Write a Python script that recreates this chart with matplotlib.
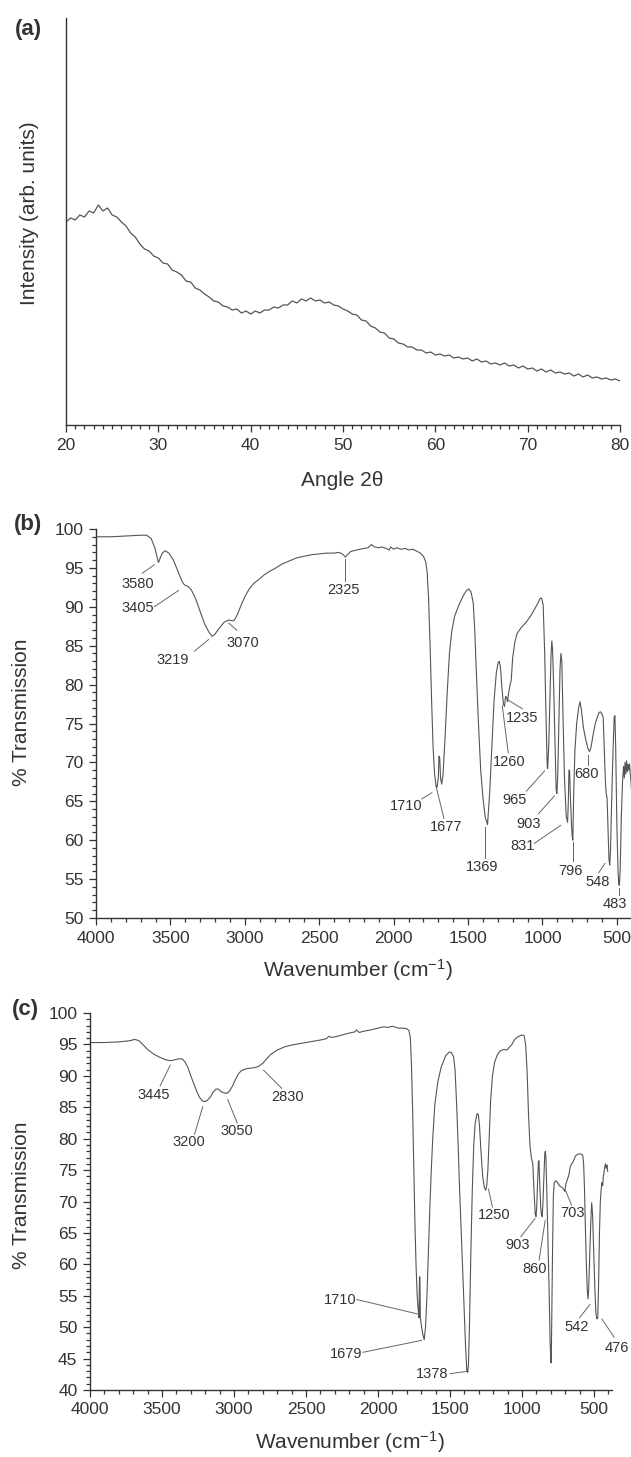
import numpy as np
import matplotlib
matplotlib.use("Agg")
import matplotlib.pyplot as plt
from matplotlib.ticker import MultipleLocator

plt.rcParams['font.family'] = ['Liberation Sans', 'DejaVu Sans']
plt.rcParams['mathtext.default'] = 'regular'

TXT = '#333333'
LINE = '#555555'

# (a) XRD, angle grid and read-off intensity (arb. units)
xrd_angle = np.arange(20, 80.5, 0.5)
xrd_int = [203, 207, 205, 210, 208, 214, 212, 220, 214, 217,
           210, 208, 203, 199, 192, 188, 181, 176, 174, 169,
           167, 162, 161, 155, 153, 150, 144, 143, 137, 135,
           131, 128, 124, 123, 119, 118, 115, 116, 112, 114,
           111, 114, 112, 115, 115, 118, 117, 120, 120, 124,
           122, 126, 124, 127, 124, 125, 122, 123, 120, 119,
           116, 114, 111, 110, 105, 104, 99, 97, 93, 92,
           87, 86, 82, 81, 78, 78, 75, 75, 72, 73,
           70, 71, 69, 70, 67, 68, 66, 67, 64, 66,
           63, 64, 61, 62, 60, 62, 59, 60, 57, 59,
           56, 57, 54, 56, 53, 55, 52, 53, 51, 52,
           49, 51, 48, 50, 47, 48, 46, 47, 45, 46, 44]

# (b) FTIR
b_wn = [4000, 3900, 3800, 3700, 3660, 3630, 3605, 3590, 3580, 3570, 3555, 3535, 3510, 3480,
        3450, 3420, 3405, 3380, 3360, 3330, 3300, 3270, 3240, 3219, 3200, 3170, 3140, 3110,
        3085, 3070, 3050, 3025, 3000, 2970, 2940, 2900, 2870, 2830, 2800, 2750, 2700, 2650,
        2600, 2550, 2500, 2450, 2400, 2370, 2345, 2325, 2310, 2290, 2250, 2200, 2170, 2150,
        2130, 2100, 2080, 2050, 2030, 2020, 2000, 1980, 1950, 1920, 1900, 1870, 1850, 1820,
        1800, 1785, 1775, 1765, 1755, 1745, 1735, 1725, 1715, 1708, 1700, 1695, 1690, 1685,
        1677, 1668, 1655, 1640, 1625, 1610, 1590, 1560, 1530, 1510, 1495, 1480, 1465, 1455,
        1445, 1430, 1415, 1400, 1385, 1369, 1355, 1340, 1325, 1310, 1298, 1290, 1282, 1272,
        1262, 1255, 1248, 1240, 1235, 1228, 1218, 1210, 1200, 1185, 1170, 1140, 1110, 1080,
        1050, 1030, 1015, 1005, 995, 985, 975, 968, 965, 958, 950, 942, 937, 932,
        925, 915, 908, 903, 897, 890, 882, 876, 870, 862, 852, 840, 831, 826,
        822, 818, 813, 805, 800, 796, 790, 782, 770, 757, 748, 740, 725, 710,
        695, 684, 675, 660, 645, 630, 620, 610, 600, 592, 585, 578, 572, 566,
        560, 553, 548, 543, 535, 525, 518, 513, 508, 500, 492, 487, 483, 478,
        470, 462, 455, 450, 445, 440, 435, 430, 425, 420, 415, 410, 405, 400]
b_tr = [99.0, 99.0, 99.1, 99.2, 99.2, 98.8, 97.6, 96.4, 95.7, 96.2, 96.9, 97.2, 96.9, 96.0,
        94.6, 93.2, 92.8, 92.6, 92.2, 91.0, 89.4, 87.8, 86.7, 86.2, 86.5, 87.3, 88.0, 88.3,
        88.2, 88.3, 89.0, 90.2, 91.3, 92.3, 93.0, 93.6, 94.1, 94.6, 94.9, 95.5, 95.9, 96.3,
        96.5, 96.7, 96.8, 96.9, 96.9, 97.0, 96.8, 96.4, 96.7, 97.1, 97.3, 97.5, 97.6, 98.0,
        97.7, 97.6, 97.7, 97.5, 97.3, 97.7, 97.4, 97.6, 97.4, 97.5, 97.3, 97.4, 97.2, 96.9,
        96.5, 95.8, 94.5, 91.0, 85.0, 78.0, 72.0, 68.5, 67.0, 66.8, 68.0, 70.8, 70.5, 68.0,
        67.2, 68.5, 73.0, 79.0, 84.0, 86.8, 88.8, 90.3, 91.5, 92.1, 92.3, 91.9, 90.5, 87.0,
        82.0, 75.0, 69.0, 65.5, 63.0, 62.0, 66.0, 72.0, 78.0, 81.5, 82.8, 83.0, 82.2, 79.5,
        77.5, 77.2, 78.5, 78.3, 77.8, 78.8, 80.0, 80.5, 83.5, 85.5, 86.6, 87.4, 88.0, 88.8,
        89.8, 90.5, 91.1, 91.1, 90.2, 84.0, 75.0, 69.5, 69.2, 72.0, 78.0, 84.0, 85.6, 84.5,
        80.0, 72.0, 66.5, 66.0, 68.5, 75.0, 82.0, 84.0, 83.0, 76.0, 68.0, 63.0, 62.3, 65.0,
        69.0, 69.0, 66.0, 62.0, 60.5, 60.0, 66.0, 71.5, 75.0, 77.0, 77.8, 77.0, 74.5, 73.0,
        71.8, 71.4, 71.8, 73.5, 75.0, 75.9, 76.4, 76.5, 76.2, 75.8, 72.0, 68.0, 66.0, 65.5,
        62.0, 57.5, 56.8, 58.5, 65.0, 72.0, 75.8, 76.0, 72.0, 62.0, 56.0, 54.3, 54.2, 56.0,
        63.0, 67.5, 69.5, 68.0, 70.0, 68.5, 70.2, 68.8, 69.8, 69.0, 69.8, 68.5, 67.5, 66.0]
b_peaks = ['3580', '3405', '3219', '3070', '2325', '1710', '1677', '1369', '1260', '1235',
           '965', '903', '831', '680', '796', '548', '483']

# (c) FTIR
c_wn = [4000, 3900, 3800, 3720, 3690, 3660, 3630, 3600, 3560, 3520, 3480, 3445, 3420, 3385,
        3360, 3340, 3320, 3300, 3280, 3260, 3240, 3220, 3200, 3185, 3165, 3145, 3125, 3110,
        3090, 3070, 3050, 3030, 3010, 2990, 2970, 2950, 2920, 2890, 2860, 2830, 2800, 2770,
        2740, 2700, 2650, 2600, 2550, 2500, 2450, 2400, 2360, 2340, 2320, 2300, 2250, 2200,
        2160, 2150, 2130, 2100, 2050, 2000, 1960, 1930, 1900, 1860, 1830, 1800, 1785, 1775,
        1768, 1760, 1752, 1744, 1736, 1728, 1720, 1715, 1712, 1709, 1706, 1700, 1690, 1679,
        1670, 1660, 1650, 1640, 1630, 1620, 1605, 1585, 1560, 1530, 1505, 1490, 1475, 1465,
        1455, 1445, 1435, 1420, 1405, 1392, 1383, 1378, 1372, 1365, 1355, 1345, 1335, 1325,
        1312, 1303, 1295, 1285, 1273, 1262, 1252, 1245, 1237, 1228, 1218, 1205, 1190, 1170,
        1150, 1125, 1105, 1090, 1070, 1050, 1030, 1010, 995, 985, 975, 965, 955, 945,
        935, 925, 915, 908, 903, 898, 892, 886, 882, 877, 870, 864, 860, 855,
        848, 842, 838, 834, 828, 820, 812, 805, 800, 797, 794, 788, 782, 776,
        765, 752, 740, 725, 712, 703, 695, 685, 675, 665, 655, 645, 630, 615,
        600, 585, 578, 572, 566, 560, 553, 547, 542, 537, 530, 522, 516, 510,
        502, 494, 486, 479, 474, 468, 462, 456, 450, 445, 440, 435, 430, 425,
        420, 415, 410, 405]
c_tr = [95.3, 95.3, 95.4, 95.6, 95.8, 95.6, 94.9, 94.2, 93.5, 93.0, 92.6, 92.4, 92.5, 92.7,
        92.7, 92.2, 91.3, 90.0, 88.8, 87.6, 86.6, 86.0, 85.9, 86.1, 86.6, 87.4, 87.9, 87.9,
        87.5, 87.3, 87.2, 87.6, 88.4, 89.4, 90.3, 90.8, 91.1, 91.2, 91.3, 91.5, 92.0, 92.8,
        93.5, 94.1, 94.6, 94.9, 95.1, 95.3, 95.5, 95.7, 95.9, 96.3, 96.1, 96.2, 96.5, 96.8,
        97.0, 97.3, 96.9, 97.1, 97.3, 97.6, 97.8, 97.7, 97.9, 97.6, 97.6, 97.5, 97.2, 96.0,
        92.0, 85.0, 76.0, 67.0, 60.0, 55.0, 52.5, 51.5, 58.0, 58.0, 51.5, 50.5, 49.0, 48.0,
        50.0, 55.0, 62.0, 69.0, 75.0, 80.0, 85.5, 89.0, 91.5, 93.2, 93.8, 93.7, 93.0, 91.0,
        86.0, 80.0, 73.0, 64.0, 55.0, 47.0, 43.0, 42.8, 44.0, 50.0, 62.0, 72.0, 79.0, 82.5,
        84.0, 83.8, 82.0, 78.0, 74.0, 72.3, 71.8, 72.5, 75.0, 80.0, 86.0, 90.0, 92.2, 93.4,
        94.0, 94.2, 94.1, 94.5, 95.0, 95.8, 96.2, 96.4, 96.5, 96.4, 95.0, 91.0, 84.0, 79.0,
        77.0, 76.0, 71.0, 68.0, 67.6, 69.0, 73.0, 76.3, 76.5, 73.0, 69.0, 67.8, 67.6, 69.5,
        74.0, 77.5, 78.0, 77.0, 72.0, 64.0, 56.0, 48.0, 44.5, 44.3, 50.0, 62.0, 71.0, 73.0,
        73.3, 73.0, 72.5, 72.3, 72.0, 71.6, 72.8, 73.5, 74.2, 75.5, 76.0, 76.3, 77.2, 77.5,
        77.6, 77.5, 77.3, 76.0, 72.0, 66.0, 60.0, 56.0, 54.5, 56.0, 61.0, 67.0, 69.8, 68.0,
        62.0, 56.0, 52.0, 51.3, 51.5, 57.0, 65.0, 70.0, 72.0, 73.0, 72.5, 74.0, 74.8, 75.5,
        76.0, 75.3, 75.8, 74.8]
c_peaks = ['3445', '3200', '3050', '2830', '1710', '1679', '1378', '1250', '903', '860',
           '703', '542', '476']

# label layout: text x, text y, leader start (x, y), leader end (x, y)
b_label_pos = [(3716, 92.9, 3690, 94.3, 3608, 95.4),
               (3716, 89.9, 3608, 90.0, 3446, 92.1),
               (3486, 83.2, 3338, 84.3, 3243, 85.8),
               (3014, 85.3, 3054, 87.0, 3108, 87.9),
               (2338, 92.2, 2325, 93.3, 2325, 96.1),
               (1919, 64.4, 1811, 65.3, 1743, 66.1),
               (1649, 61.7, 1662, 62.8, 1716, 67.0),
               (1405, 56.6, 1384, 57.7, 1384, 61.7),
               (1222, 70.0, 1230, 71.2, 1270, 77.3),
               (1135, 75.7, 1135, 76.9, 1230, 78.0),
               (1189, 65.2, 1108, 66.3, 986, 68.9),
               (1095, 62.1, 1027, 63.4, 919, 65.7),
               (1135, 59.2, 1054, 59.6, 878, 61.9),
               (703, 68.5, 697, 69.7, 697, 71.0),
               (811, 56.0, 796, 57.3, 796, 59.8),
               (627, 54.6, 622, 55.8, 581, 57.0),
               (514, 51.8, 483, 52.9, 483, 53.9)]
c_label_pos = [(3555, 87.0, 3513, 88.4, 3443, 91.7),
               (3316, 79.5, 3274, 80.7, 3217, 85.1),
               (2978, 81.2, 2978, 82.5, 3043, 86.2),
               (2626, 86.7, 2668, 88.0, 2795, 90.9),
               (2260, 54.3, 2148, 54.4, 1725, 52.1),
               (2218, 45.8, 2105, 46.0, 1697, 47.9),
               (1627, 42.5, 1500, 42.6, 1373, 43.0),
               (1196, 67.8, 1205, 69.1, 1233, 72.0),
               (1030, 63.0, 1008, 64.4, 909, 67.3),
               (909, 59.3, 881, 60.7, 839, 67.0),
               (647, 68.1, 656, 69.4, 698, 71.8),
               (622, 50.0, 600, 51.5, 529, 53.6),
               (340, 46.7, 360, 48.4, 445, 51.3)]

W, H = 631, 1457
fig = plt.figure(figsize=(W / 100, H / 100), dpi=100)


def px_axes(left, top, right, bottom):
    return fig.add_axes([left / W, 1 - bottom / H, (right - left) / W, (bottom - top) / H])


def px_text(x, y, s, **kw):
    # text centred on a pixel position (from top-left)
    fig.text(x / W, 1 - y / H, s, ha='center', va='center', color=TXT, **kw)


def style_axes(ax):
    for s in ['top', 'right']:
        ax.spines[s].set_visible(False)
    for s in ['left', 'bottom']:
        ax.spines[s].set_color(TXT)
        ax.spines[s].set_linewidth(1.0)
    ax.tick_params(which='both', direction='out', colors=TXT, labelsize=12.5, width=0.9)
    ax.tick_params(which='major', length=5, pad=4)
    ax.tick_params(which='minor', length=3)


# ---- (a) ----
ax1 = px_axes(66, 18, 620, 425)
style_axes(ax1)
ax1.plot(xrd_angle, xrd_int, color=LINE, lw=0.9)
ax1.set_xlim(20, 80)
ax1.set_ylim(0, 407)
ax1.xaxis.set_major_locator(MultipleLocator(10))
ax1.xaxis.set_minor_locator(MultipleLocator(1))
ax1.set_yticks([])
px_text(342, 481, 'Angle 2θ', fontsize=15)
px_text(30, 213, 'Intensity (arb. units)', fontsize=15, rotation=90)
px_text(28, 29, '(a)', fontsize=16, fontweight='bold')


def ftir_panel(ax, wn, tr, peaks, layout, xr, yr):
    style_axes(ax)
    ax.plot(wn, tr, color=LINE, lw=0.8)
    ax.set_xlim(*xr)
    ax.set_ylim(*yr)
    ax.xaxis.set_major_locator(MultipleLocator(500))
    ax.xaxis.set_minor_locator(MultipleLocator(100))
    ax.yaxis.set_major_locator(MultipleLocator(5))
    ax.yaxis.set_minor_locator(MultipleLocator(1))
    for lab, (tx, ty, x0, y0, x1, y1) in zip(peaks, layout):
        ax.plot([x0, x1], [y0, y1], color='#666666', lw=0.7, clip_on=False)
        ax.text(tx, ty, lab, fontsize=10.5, color=TXT, ha='center', va='center', clip_on=False)


# ---- (b) ----
ax2 = px_axes(96, 529, 631, 918)
ftir_panel(ax2, b_wn, b_tr, b_peaks, b_label_pos, (4000, 405), (50, 100))
px_text(22, 712, '% Transmission', fontsize=15, rotation=90)
px_text(358, 970, 'Wavenumber (cm$^{-1}$)', fontsize=15)
px_text(28, 524, '(b)', fontsize=16, fontweight='bold')

# ---- (c) ----
ax3 = px_axes(90, 1013, 612, 1390)
ftir_panel(ax3, c_wn, c_tr, c_peaks, c_label_pos, (4000, 375), (40, 100))
px_text(22, 1195, '% Transmission', fontsize=15, rotation=90)
px_text(350, 1442, 'Wavenumber (cm$^{-1}$)', fontsize=15)
px_text(25, 1010, '(c)', fontsize=16, fontweight='bold')

fig.savefig('out.png', dpi=100)
